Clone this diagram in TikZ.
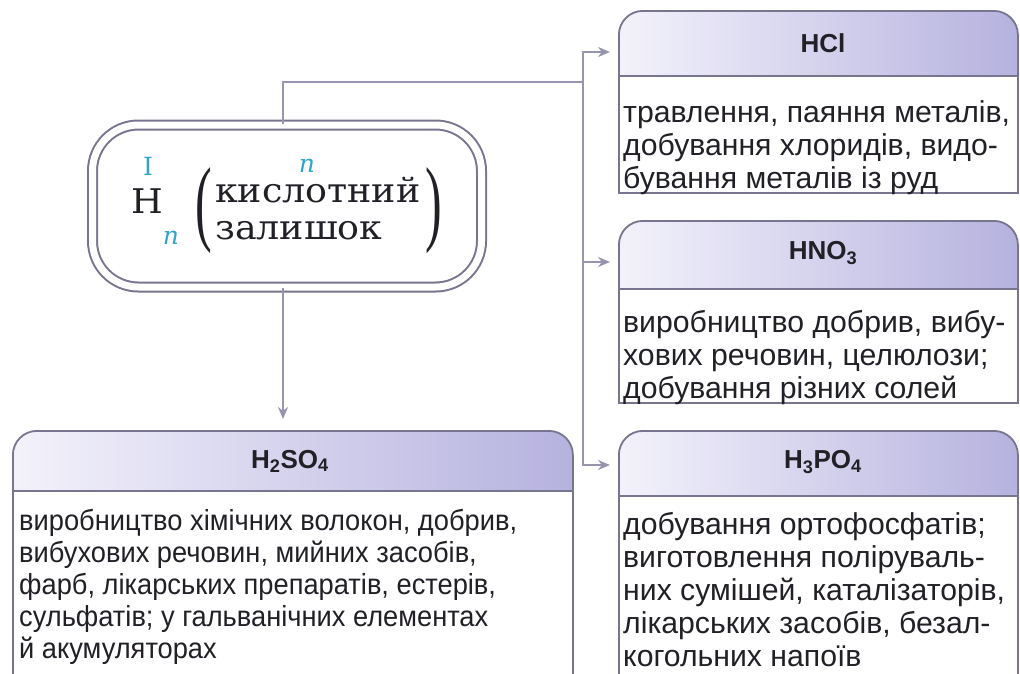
\documentclass[tikz,border=0pt]{standalone}
\usepackage{graphicx}
\usepackage{fontspec}
\setmainfont{Liberation Sans}
\newfontfamily\schoolfont{DejaVu Serif}[FakeStretch=1.07]
\newfontfamily\valfont{DejaVu Serif}
\newfontfamily\parenfont{Liberation Serif}
\newfontfamily\narrowsans{Liberation Sans}[FakeStretch=0.94]
\usetikzlibrary{arrows.meta,positioning}
\definecolor{edge}{HTML}{77758F}
\definecolor{wire}{HTML}{9694AE}
\definecolor{headlo}{HTML}{F3F2FB}
\definecolor{headhi}{HTML}{B6B2DF}
\definecolor{markblue}{HTML}{2FA5C8}
\definecolor{ink}{HTML}{222026}
\begin{document}
\begin{tikzpicture}[x=1pt,y=-1pt,
    head/.style={draw=edge,line width=1.8pt,rounded corners=24pt,left color=headlo,right color=headhi,
      anchor=north west,inner sep=0pt},
    body/.style={draw=edge,line width=1.8pt,fill=white,anchor=north west,inner sep=0pt},
    title/.style={text=ink,inner sep=0pt,font=\fontsize{26}{28}\selectfont\bfseries},
    info/.style={text=ink,font=\fontsize{30.2}{33}\selectfont,align=left,anchor=north west,inner sep=0pt},
    mainbox/.style={draw=edge,double=white,double distance=7pt,line width=2pt,rounded corners=46pt,
      fill=white,minimum width=389pt,minimum height=162pt},
    formula/.style={text=ink,inner sep=0pt,font=\fontsize{34}{37}\schoolfont},
    paren/.style={text=ink,inner sep=0pt,font=\fontsize{50}{50}\parenfont},
    valence/.style={text=markblue,inner sep=0pt,font=\fontsize{25}{25}\valfont},
    link/.style={wire,line width=1.8pt},
    tip/.style={-{Stealth[length=12pt,width=10pt]}}]
  \useasboundingbox (0,0) rectangle (1020,673);
  \clip (0,0) rectangle (1020,673);

  \node[mainbox] (main) at (287,206) {};
  \node[formula] (hyd) at (147.5,201.5) {H};
  \node[paren] (lpar) at (204,211) {\scalebox{1}[1.9]{(}};
  \node[paren] (rpar) at (434,211) {\scalebox{1}[1.9]{)}};
  \node[formula,align=left,anchor=north west] (acid) at (215,177) {кислотний\\залишок};
  \node[valence] (valh) at (148,166) {I};
  \node[valence,font=\fontsize{25}{25}\valfont\itshape] (idx) at (171,238) {n};
  \node[valence,font=\fontsize{25}{25}\valfont\itshape] (valr) at (307,166) {n};

  \node[head,minimum width=399pt,minimum height=95pt] (hclhead) at (618,10) {};
  \node[body,minimum width=399pt,minimum height=117pt] (hclbody) at (618,75) {};
  \node[title] (hcl) at (823,43) {HCl};
  \node[info] (hcltext) at (623,100)
    {травлення, паяння металів,\\добування хлоридів, видо-\\бування металів із руд};

  \node[head,minimum width=399pt,minimum height=98pt] (hnohead) at (618,220) {};
  \node[body,minimum width=399pt,minimum height=114pt] (hnobody) at (618,288) {};
  \node[title] (hno) at (823,253) {HNO\textsubscript{3}};
  \node[info] (hnotext) at (623,310)
    {виробництво добрив, вибу-\\хових речовин, целюлози;\\добування різних солей};

  \node[head,minimum width=399pt,minimum height=95pt] (hpohead) at (618,430) {};
  \node[body,minimum width=399pt,minimum height=200pt] (hpobody) at (618,495) {};
  \node[title] (hpo) at (823,462) {H\textsubscript{3}PO\textsubscript{4}};
  \node[info] (hpotext) at (623,512)
    {добування ортофосфатів;\\виготовлення поліруваль-\\них сумішей, каталізаторів,\\лікарських засобів, безал-\\когольних напоїв};

  \node[head,minimum width=560pt,minimum height=90pt] (hsohead) at (12,430) {};
  \node[body,minimum width=560pt,minimum height=200pt] (hsobody) at (12,490) {};
  \node[title] (hso) at (290,461) {H\textsubscript{2}SO\textsubscript{4}};
  \node[info,font=\fontsize{29}{32}\narrowsans] (hsotext) at (19,509)
    {виробництво хімічних волокон, добрив,\\вибухових речовин, мийних  засобів,\\фарб, лікарських препаратів, естерів,\\сульфатів; у гальванічних елементах\\й акумуляторах};

  \coordinate (fork) at (583,82);
  \draw[link] ([xshift=-4pt]main.north) |- (fork);
  \draw[link,tip,shorten >=8pt] (fork) |- ([yshift=-9pt]hcl -| hclhead.west);
  \draw[link,tip,shorten >=8pt] (fork) |- ([yshift=-9pt]hno -| hnohead.west);
  \draw[link,tip,shorten >=8pt] (fork) |- ([yshift=-3pt]hpo -| hpohead.west);
  \draw[link,tip,shorten >=11pt] ([xshift=-4pt]main.south) -- ([xshift=-4pt]main.south |- hsohead.north);
\end{tikzpicture}
\end{document}
